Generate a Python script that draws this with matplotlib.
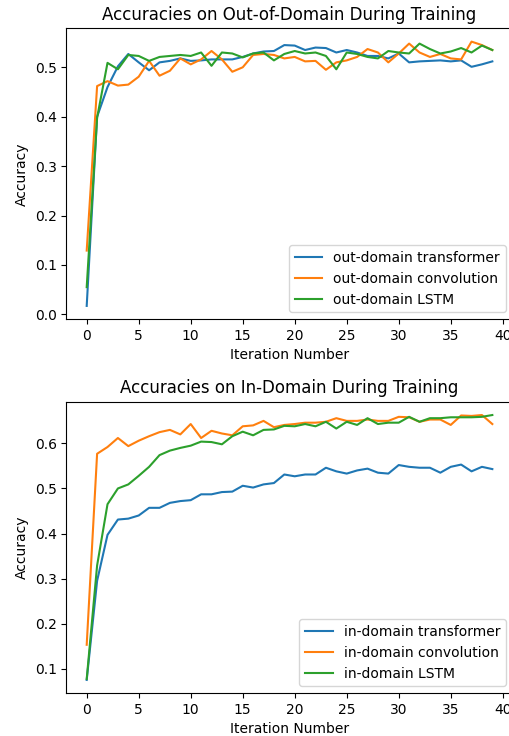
import matplotlib
matplotlib.use('Agg')
import matplotlib.pyplot as plt

iterations = list(range(40))

# out-of-domain accuracies
out_transformer = [0.017, 0.400, 0.460, 0.502, 0.527, 0.510, 0.494, 0.510, 0.513, 0.518,
                   0.513, 0.514, 0.516, 0.516, 0.516, 0.521, 0.528, 0.532, 0.533, 0.545,
                   0.544, 0.535, 0.540, 0.539, 0.530, 0.535, 0.530, 0.523, 0.523, 0.518,
                   0.528, 0.510, 0.512, 0.513, 0.514, 0.512, 0.514, 0.501, 0.506, 0.512]
out_convolution = [0.129, 0.462, 0.472, 0.463, 0.465, 0.481, 0.513, 0.483, 0.493, 0.518,
                   0.506, 0.516, 0.533, 0.516, 0.491, 0.500, 0.525, 0.527, 0.525, 0.518,
                   0.521, 0.512, 0.513, 0.495, 0.510, 0.514, 0.521, 0.537, 0.530, 0.510,
                   0.528, 0.548, 0.530, 0.521, 0.527, 0.518, 0.516, 0.552, 0.545, 0.535]
out_lstm = [0.055, 0.398, 0.509, 0.496, 0.525, 0.523, 0.513, 0.521, 0.523, 0.525,
            0.523, 0.530, 0.503, 0.530, 0.528, 0.520, 0.528, 0.530, 0.514, 0.527,
            0.533, 0.528, 0.530, 0.523, 0.496, 0.530, 0.527, 0.521, 0.518, 0.533,
            0.530, 0.528, 0.548, 0.537, 0.528, 0.532, 0.539, 0.530, 0.544, 0.535]

# in-domain accuracies
in_transformer = [0.075, 0.295, 0.397, 0.431, 0.433, 0.440, 0.457, 0.457, 0.468, 0.472,
                  0.474, 0.487, 0.487, 0.492, 0.493, 0.506, 0.502, 0.509, 0.512, 0.531,
                  0.527, 0.531, 0.531, 0.546, 0.538, 0.533, 0.540, 0.544, 0.535, 0.533,
                  0.552, 0.548, 0.546, 0.546, 0.535, 0.548, 0.553, 0.538, 0.548, 0.543]
in_convolution = [0.153, 0.577, 0.592, 0.612, 0.594, 0.606, 0.616, 0.625, 0.630, 0.620,
                  0.643, 0.612, 0.628, 0.622, 0.618, 0.638, 0.640, 0.650, 0.636, 0.641,
                  0.643, 0.646, 0.646, 0.648, 0.656, 0.650, 0.650, 0.653, 0.650, 0.650,
                  0.659, 0.658, 0.648, 0.653, 0.653, 0.641, 0.662, 0.661, 0.663, 0.643]
in_lstm = [0.077, 0.329, 0.465, 0.500, 0.509, 0.528, 0.548, 0.574, 0.584, 0.590,
           0.595, 0.604, 0.603, 0.598, 0.616, 0.626, 0.618, 0.630, 0.631, 0.639,
           0.638, 0.643, 0.638, 0.648, 0.633, 0.648, 0.641, 0.656, 0.643, 0.646,
           0.646, 0.659, 0.648, 0.656, 0.656, 0.658, 0.658, 0.658, 0.659, 0.663]

fig = plt.figure(figsize=(5.09, 7.36), dpi=100)

# the reference is cropped on the right, so the axes run past the figure edge
ax1 = fig.add_axes([0.1305, 0.5664, 0.8766, 0.3950])
ax2 = fig.add_axes([0.1305, 0.0582, 0.8766, 0.3959])

ax1.plot(iterations, out_transformer, label='out-domain transformer')
ax1.plot(iterations, out_convolution, label='out-domain convolution')
ax1.plot(iterations, out_lstm, label='out-domain LSTM')
ax1.set_title('Accuracies on Out-of-Domain During Training')
ax1.set_xlabel('Iteration Number')
ax1.set_ylabel('Accuracy')
ax1.set_xticks(range(0, 41, 5))
ax1.legend(loc='lower right')

ax2.plot(iterations, in_transformer, label='in-domain transformer')
ax2.plot(iterations, in_convolution, label='in-domain convolution')
ax2.plot(iterations, in_lstm, label='in-domain LSTM')
ax2.set_title('Accuracies on In-Domain During Training')
ax2.set_xlabel('Iteration Number')
ax2.set_ylabel('Accuracy')
ax2.set_xticks(range(0, 41, 5))
ax2.legend(loc='lower right')

fig.savefig('out.png', dpi=100)
